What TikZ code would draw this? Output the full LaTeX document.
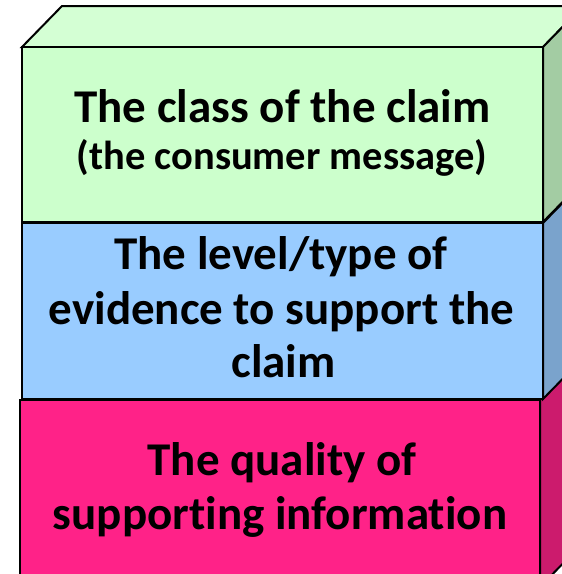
\documentclass[tikz,border=0pt]{standalone}
\usepackage{fontspec}
\setmainfont{Carlito}[Ligatures=NoCommon]
\definecolor{greenfront}{HTML}{CCFFCC}
\definecolor{greentop}{HTML}{D4FFD4}
\definecolor{greenside}{HTML}{A3CCA3}
\definecolor{bluefront}{HTML}{99CCFF}
\definecolor{blueside}{HTML}{7AA3CC}
\definecolor{pinkfront}{HTML}{FF2288}
\definecolor{pinkside}{HTML}{CC1B6D}
\tikzset{
  face/.style={draw=black, line width=2pt, line join=miter},
  label/.style={font=\bfseries\fontsize{47}{55}\selectfont, align=center, text=black, inner sep=0pt},
}
\begin{document}
\begin{tikzpicture}[x=1pt, y=-1pt]
\useasboundingbox (0,0) rectangle (562,574);
\clip (0,0) rectangle (562,574);
% bottom block
\draw[face, fill=pinkside] (540,400) -- (580,359) -- (580,546) -- (540,587) -- cycle;
\draw[face, fill=pinkfront] (20,400) rectangle (540,590);
% middle block
\draw[face, fill=blueside] (543,223) -- (583,182) -- (583,358) -- (543,399) -- cycle;
\draw[face, fill=bluefront] (22,223) rectangle (543,399);
% top block
\draw[face, fill=greentop] (22,47) -- (62,6) -- (583,6) -- (543,47) -- cycle;
\draw[face, fill=greenside] (543,47) -- (583,6) -- (583,181) -- (543,222) -- cycle;
\draw[face, fill=greenfront] (22,47) rectangle (543,222);
% labels
\node[label, anchor=base] (claim) at (282.5,122) {The class of the claim};
\node[label, anchor=base, font=\bfseries\fontsize{40.5}{45}\selectfont] (message) at (282,169) {(the consumer message)};
\node[label, anchor=base] (evid1) at (281,269) {The level/type of};
\node[label, anchor=base] (evid2) at (281.5,324) {evidence to support the};
\node[label, anchor=base] (evid3) at (283.5,377) {claim};
\node[label, anchor=base] (qual1) at (282,475) {The quality of};
\node[label, anchor=base] (qual2) at (280,529) {supporting information};
\end{tikzpicture}
\end{document}
